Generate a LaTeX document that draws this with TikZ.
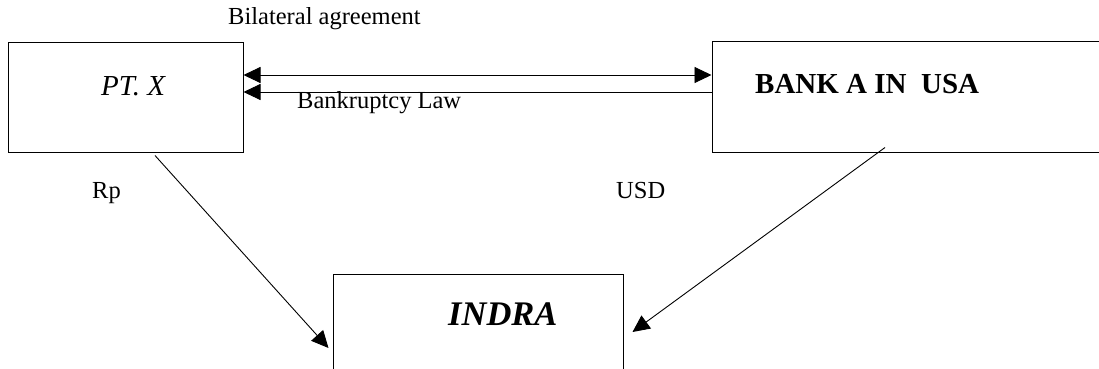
\documentclass[tikz,border=0pt]{standalone}
\usepackage{fontspec}
\setmainfont{Liberation Serif}
\usetikzlibrary{arrows.meta}
\tikzset{
  box/.style={draw=black, line width=1pt, fill=none, inner sep=0pt},
  lbl/.style={anchor=base west, inner sep=0pt, font=\fontsize{24.5}{28}\selectfont},
  conn/.style={line width=0.9pt, -{Triangle[length=17pt,width=16pt]}},
}
\begin{document}
\begin{tikzpicture}[x=1pt,y=-1pt]
\useasboundingbox (0,0) rectangle (1099,369);
\clip (0,0) rectangle (1099,369);
\fill[white] (0,0) rectangle (1099,369);
% boxes
\node[box, minimum width=235pt, minimum height=109pt] (ptx) at (125.5,97.5) {};
\node[box, minimum width=400pt, minimum height=110pt] (bank) at (912,97) {};
\node[box, minimum width=290pt, minimum height=120pt] (indra) at (478,334) {};
% box texts
\node[anchor=base west, inner sep=0pt, font=\fontsize{29}{33}\selectfont\itshape] (ptxt) at (101,95) {PT. X};
\node[anchor=base west, inner sep=0pt, font=\fontsize{29}{33}\selectfont\bfseries] (banktxt) at (755,93) {BANK A IN\ \ USA};
\node[anchor=base west, inner sep=0pt, font=\fontsize{34.5}{38}\selectfont\bfseries\itshape] (indratxt) at (448,325) {INDRA};
% labels
\node[lbl] (bil) at (228,25) {Bilateral agreement};
\node[lbl] (bkl) at (297,108) {Bankruptcy Law};
\node[lbl] (rp) at (92,198) {Rp};
\node[lbl] (usd) at (616,198) {USD};
% connectors
\draw[line width=0.9pt, {Triangle[length=17pt,width=16pt]}-{Triangle[length=17pt,width=16pt]}]
  ([yshift=22.5pt]ptx.east) -- ([yshift=22pt]bank.west);
\draw[conn] ([yshift=5pt]bank.west) -- ([yshift=5.5pt]ptx.east);
\draw[conn] ([shift={(29.5,3)}]ptx.south) -- ([shift={(-4,14)}]indra.west);
\draw[conn] ([shift={(-27,-5)}]bank.south) -- ([shift={(9,-2)}]indra.east);
\end{tikzpicture}
\end{document}
